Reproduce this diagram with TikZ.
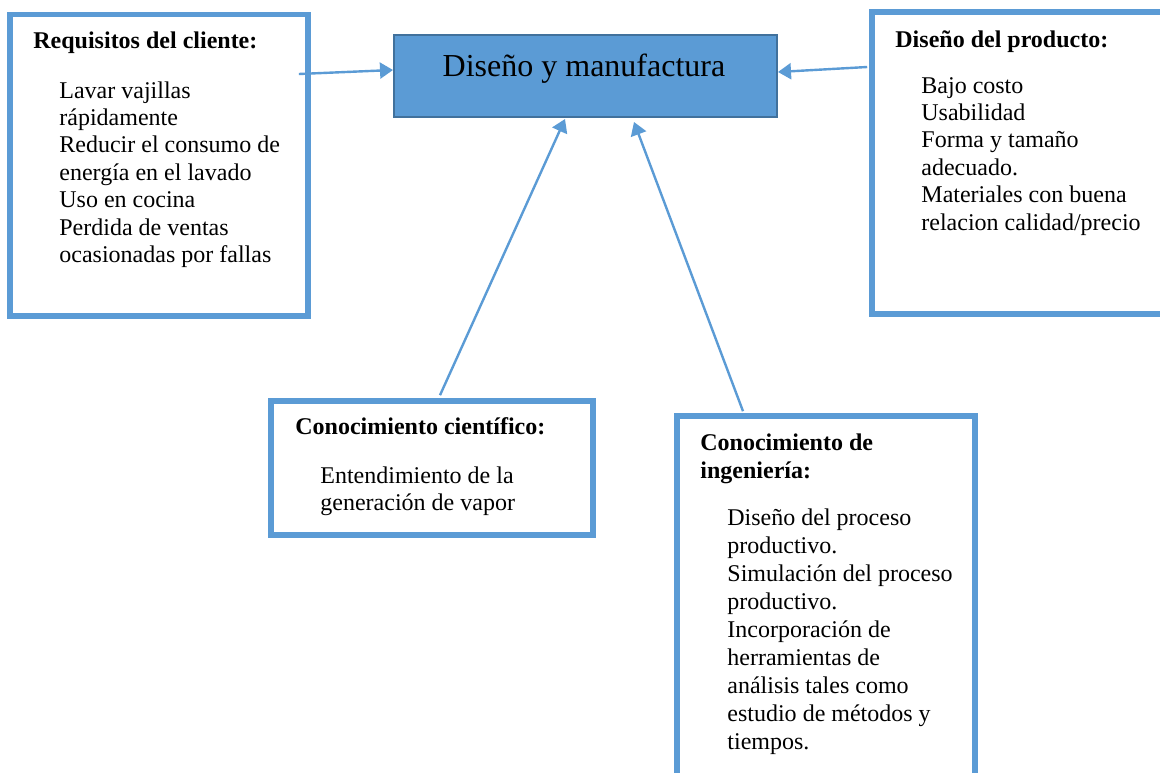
\documentclass[tikz,border=0pt]{standalone}
\usepackage{fontspec}
\setmainfont{Liberation Serif}
\usetikzlibrary{arrows.meta,calc}
\definecolor{boxblue}{HTML}{5B9BD5}
\definecolor{edgeblue}{HTML}{41719C}
\begin{document}
\begin{tikzpicture}[x=0.5pt,y=-0.5pt,
  panel/.style={draw=boxblue,line width=2.8pt,fill=white,rectangle,inner sep=0pt},
  centrebox/.style={draw=edgeblue,line width=1pt,fill=boxblue,rectangle,inner sep=0pt},
  heading/.style={anchor=base west,inner sep=0pt,font=\fontsize{12}{13.7}\selectfont\bfseries},
  body/.style={anchor=base west,inner sep=0pt,font=\fontsize{12}{13.7}\selectfont},
  link/.style={draw=boxblue,line width=1.2pt,-{Triangle[length=6.5pt,width=8pt]}}]
\useasboundingbox (0,0) rectangle (1160,772);

% boxes
\node[panel,minimum width=149pt,minimum height=150.75pt] (req) at (159,165.25) {};
\node[panel,minimum width=154pt,minimum height=151pt] (prod) at (1026,163) {};
\node[panel,minimum width=161pt,minimum height=67pt] (sci) at (432,468) {};
\node[panel,minimum width=149pt,minimum height=192pt] (eng) at (826,608) {};
\node[centrebox,minimum width=191.5pt,minimum height=41pt] (main) at (585.5,76) {};

% centre title
\node[anchor=base,inner sep=0pt,font=\fontsize{16}{18}\selectfont] (title) at (584,76) {Diseño y manufactura};

% box texts
\node[heading] (reqhead) at (33,48) {Requisitos del cliente:};
\node[body] (reqtext) at (59,98) {\begin{tabular}[t]{@{}l@{}}
Lavar vajillas\\
rápidamente\\
Reducir el consumo de\\
energía en el lavado\\
Uso en cocina\\
Perdida de ventas\\
ocasionadas por fallas
\end{tabular}};

\node[heading] (prodhead) at (895,47) {Diseño del producto:};
\node[body] (prodtext) at (921,93) {\begin{tabular}[t]{@{}l@{}}
Bajo costo\\
Usabilidad\\
Forma y tamaño\\
adecuado.\\
Materiales con buena\\
relacion calidad/precio
\end{tabular}};

\node[heading] (scihead) at (295,434) {Conocimiento científico:};
\node[body] (scitext) at (320,483) {\begin{tabular}[t]{@{}l@{}}
Entendimiento de la\\
generación de vapor
\end{tabular}};

\node[heading,font=\fontsize{12}{14}\selectfont\bfseries] (enghead) at (700,450) {\begin{tabular}[t]{@{}l@{}}
Conocimiento de\\
ingeniería:
\end{tabular}};
\node[body,font=\fontsize{12}{14.05}\selectfont] (engtext) at (727,525) {\begin{tabular}[t]{@{}l@{}}
Diseño del proceso\\
productivo.\\
Simulación del proceso\\
productivo.\\
Incorporación de\\
herramientas de\\
análisis tales como\\
estudio de métodos y\\
tiempos.
\end{tabular}};

% connector end points
\coordinate (reqout) at ($(req.east)+(-12,-91.25)$);
\coordinate (prodout) at ($(prod.west)+(-2,-96)$);
\coordinate (sciout) at ($(sci.north)+(8,-3)$);
\coordinate (engout) at ($(eng.north)+(-83,-2)$);

% connectors
\draw[link] (reqout) -- ($(main.west)+(0,-6)$);
\draw[link] (prodout) -- ($(main.east)+(0,-4)$);
\draw[link] (sciout) -- ($(main.south)+(-20.5,1)$);
\draw[link] (engout) -- ($(main.south)+(48.5,4)$);
\end{tikzpicture}
\end{document}
